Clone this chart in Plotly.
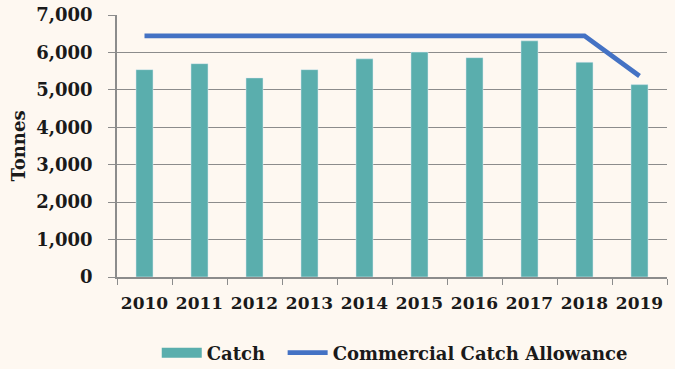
import plotly.graph_objects as go

years = ["2010", "2011", "2012", "2013", "2014", "2015", "2016", "2017", "2018", "2019"]
catch = [5540, 5700, 5320, 5540, 5830, 6010, 5860, 6310, 5740, 5140]
allowance = [6440, 6440, 6440, 6440, 6440, 6440, 6440, 6440, 6440, 5370]

BG = "#fef8f1"
TEAL = "#5aaead"
BLUE = "#4472c4"
GRID = "#8c8c8c"
FONT = "DejaVu Serif"
TXT = "#1a1a1a"

fig = go.Figure()
fig.add_trace(go.Bar(x=years, y=catch, name="Catch", marker_color=TEAL,
                     width=0.31, showlegend=False))
fig.add_trace(go.Scatter(x=[None], y=[None], name="Catch  ", mode="lines",
                         line=dict(color=TEAL, width=13), showlegend=True))
fig.add_trace(go.Scatter(x=years, y=allowance, name="Commercial Catch Allowance",
                         mode="lines", line=dict(color=BLUE, width=4.7)))

fig.update_layout(
    width=675, height=369,
    margin=dict(l=117, r=8, t=15, b=92, autoexpand=False),
    paper_bgcolor=BG, plot_bgcolor=BG,
    font=dict(family=FONT, size=18, color=TXT, weight="bold"),
    showlegend=True,
    legend=dict(orientation="h", x=0.505, xanchor="center", y=-0.29, yanchor="middle",
                font=dict(family=FONT, size=18, color=TXT, weight="bold"),
                bgcolor="rgba(0,0,0,0)", itemwidth=40, tracegroupgap=0),
    xaxis=dict(type="category", showgrid=False, showline=True, linecolor=GRID, linewidth=1.5,
               ticks="outside", ticklen=6, tickcolor=GRID, tickwidth=1.2,
               tickson="boundaries", ticklabelstandoff=10, tickangle=0, automargin=False,
               tickfont=dict(family=FONT, size=17, color=TXT, weight="bold")),
    yaxis=dict(range=[0, 7000], dtick=1000, tickformat=",", showgrid=True, gridcolor=GRID,
               gridwidth=1.2, showline=True, linecolor=GRID, linewidth=1.5,
               ticks="outside", ticklen=7, tickcolor=GRID, tickwidth=1.2,
               ticklabelstandoff=12, zeroline=False, automargin=False,
               tickfont=dict(family=FONT, size=18, color=TXT, weight="bold"),
               title=dict(text="Tonnes", standoff=6,
                          font=dict(family=FONT, size=18, color=TXT, weight="bold"))),
)

fig.write_html("out.html", config={"displayModeBar": False},
               post_script="document.body.style.margin='0';")
